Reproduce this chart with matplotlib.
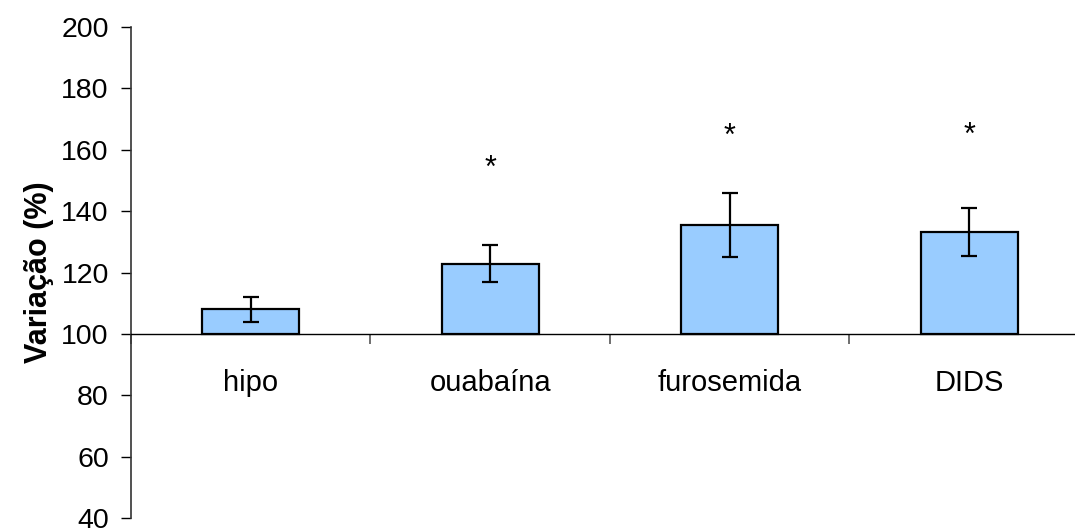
import matplotlib
matplotlib.use("Agg")
import matplotlib.pyplot as plt
import numpy as np

plt.rcParams['font.family'] = ['Liberation Sans', 'DejaVu Sans']

categories = ['hipo', 'ouabaína', 'furosemida', 'DIDS']
means = [108.0, 122.9, 135.4, 133.3]
errors = [4.0, 6.0, 10.4, 7.8]
star_y = [None, 154.7, 165.3, 165.5]

fig = plt.figure(figsize=(10.75, 5.3), dpi=100)
ax = fig.add_axes([0.1219, 0.0226, 0.891, 0.9264])

x = np.arange(len(categories))
ax.bar(x, np.array(means) - 100, bottom=100, width=0.405,
       color='#99CCFF', edgecolor='black', linewidth=1.6, zorder=2)
ax.errorbar(x, means, yerr=errors, fmt='none', ecolor='black',
            elinewidth=1.6, capsize=6, capthick=1.6, zorder=3)

for xi, sy in zip(x, star_y):
    if sy is not None:
        ax.text(xi, sy - 1.0, '*', ha='center', va='center', fontsize=22)

for xi, name in zip(x, categories):
    ax.text(xi, 84, name, ha='center', va='center', fontsize=21)

ax.set_xlim(-0.5, 3.5)
ax.set_ylim(40, 200)
ax.set_yticks(np.arange(40, 201, 20))
ax.tick_params(axis='y', labelsize=20.5, length=7, width=1, direction='out', pad=9)

# horizontal axis sits at the 100 % baseline
ax.spines['bottom'].set_position(('data', 100))
ax.spines['bottom'].set_linewidth(1)
ax.spines['left'].set_color('#333333')
ax.spines['left'].set_linewidth(1.2)
ax.spines['top'].set_visible(False)
ax.spines['right'].set_visible(False)
ax.set_xticks(np.arange(-0.5, 4.0, 1.0))
ax.set_xticklabels([])
ax.tick_params(axis='x', length=7, width=1.2, color='#555555', direction='out')

ax.set_ylabel('Variação (%)', fontsize=22, fontweight='bold', labelpad=5)

fig.savefig('out.png', dpi=100)
